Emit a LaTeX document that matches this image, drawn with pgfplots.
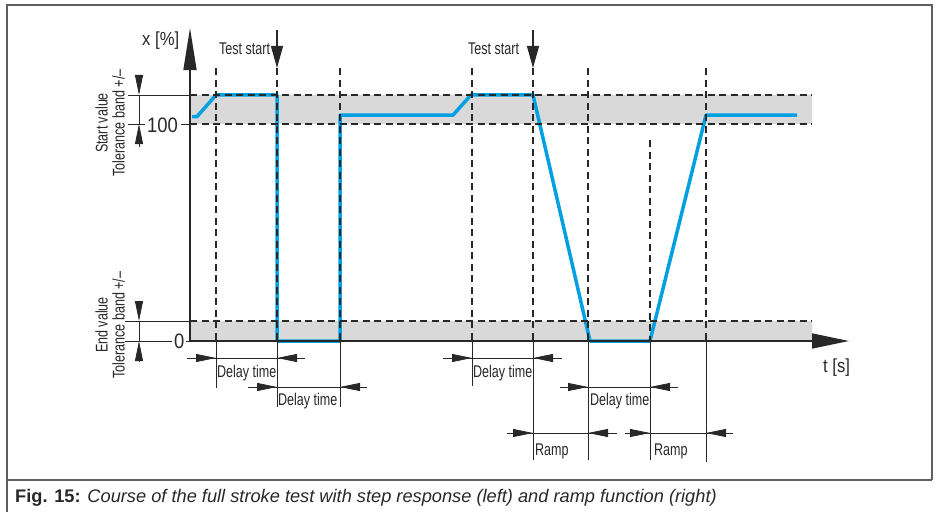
\documentclass[border=0pt]{standalone}
\usepackage{fontspec}
\setmainfont{Liberation Sans}
\newfontfamily\cnd{Liberation Sans}[FakeStretch=0.74]
\newfontfamily\cndb{Liberation Sans}[FakeStretch=0.88]
\usepackage{pgfplots}
\pgfplotsset{compat=1.18}
\usetikzlibrary{arrows.meta}
\definecolor{bandgray}{RGB}{217,217,217}
\definecolor{curveblue}{RGB}{0,160,227}
\definecolor{ink}{RGB}{40,40,40}
\definecolor{framec}{RGB}{95,95,95}
% dimension line: y, start, left tip, right tip, end
\newcommand\dimline[5]{%
  \draw[dim] (#2,#1) -- (#5,#1);
  \draw[dim,tri] (#2,#1) -- (#3,#1);
  \draw[dim,tri] (#5,#1) -- (#4,#1);}
\begin{document}
\begin{tikzpicture}
\begin{axis}[
    at={(0bp,-512bp)}, anchor=south west,
    scale only axis, width=939bp, height=512bp,
    xmin=-19, xmax=74.9, ymin=-78.80, ymax=157.14,
    hide axis, clip=false]
  % tolerance bands
  \addplot[draw=none, fill=bandgray] coordinates {(0,100) (62.2,100) (62.2,113.4) (0,113.4) (0,100)};
  \addplot[draw=none, fill=bandgray] coordinates {(0,0) (62.2,0) (62.2,9.2) (0,9.2) (0,0)};
  % valve position x [%] over t
  \addplot[curveblue, line width=3.5bp, line join=round] coordinates {
    (0.2,103.4) (0.7,103.4) (2.6,113.4) (8.7,113.4) (8.7,0) (15.0,0)
    (15.0,104.1) (26.3,104.1) (28.1,113.4) (34.3,113.4) (40.0,0) (46.0,0)
    (51.6,104.1) (60.7,104.1)};
\end{axis}
\begin{scope}[x=1bp, y=-1bp,
    dsh/.style={ink, line width=1.1bp, dash pattern=on 7bp off 4.5bp},
    dim/.style={ink, line width=0.8bp},
    tri/.style={-{Triangle[length=20bp,width=8bp]}},
    lbl/.style={font=\cnd\fontsize{17}{17}\selectfont, inner sep=0pt, text=ink},
    num/.style={font=\cndb\fontsize{21}{22}\selectfont, inner sep=0pt, text=ink}]
  % frame
  \draw[framec, line width=1.5bp] (7,512) -- (7,5) -- (932,5) -- (932,480);
  \draw[framec, line width=1.5bp] (7,480) -- (932,480);
  % dashed guides
  \foreach \yy in {95,124,321} \draw[dsh] (190,\yy) -- (812,\yy);
  \foreach \xx in {216,277,340,472,533,588,706} \draw[dsh] (\xx,68) -- (\xx,341);
  \draw[dsh] (650,140) -- (650,341);
  % extension lines below the t axis
  \draw[dim] (216,341) -- (216,388);
  \draw[dim] (277,341) -- (277,407);
  \draw[dim] (340,341) -- (340,407);
  \draw[dim] (472,341) -- (472,386);
  \draw[dim] (533,341) -- (533,460);
  \draw[dim] (588,341) -- (588,460);
  \draw[dim] (650,341) -- (650,460);
  \draw[dim] (706,341) -- (706,462);
  % axes
  \draw[ink, line width=1.5bp, -{Triangle[length=42bp,width=13bp]}] (190,341) -- (190,28);
  \draw[ink, line width=1.5bp, -{Triangle[length=37bp,width=15bp]}] (190,341) -- (849,341);
  \node[font=\cndb\fontsize{19}{20}\selectfont, inner sep=0pt, text=ink, anchor=base west] at (142,45) {x [\%]};
  \node[font=\cndb\fontsize{19}{20}\selectfont, inner sep=0pt, text=ink, anchor=base west] at (823,372) {t [s]};
  % left ticks and band dimensions
  \draw[dim] (128,95) -- (190,95);
  \draw[dim] (128,124) -- (145,124);
  \draw[dim] (181,124) -- (190,124);
  \draw[dim] (125,321) -- (190,321);
  \draw[dim] (125,341) -- (172,341);
  \draw[dim] (186,341) -- (190,341);
  \node[num, anchor=base west] at (147,132) {100};
  \node[num, anchor=base west] at (174,348) {0};
  \draw[dim,tri] (139,76) -- (139,95);
  \draw[dim] (139,95) -- (139,124);
  \draw[dim,tri] (139,147) -- (139,124);
  \draw[dim,tri] (139,301) -- (139,321);
  \draw[dim] (139,321) -- (139,341);
  \draw[dim,tri] (139,362) -- (139,341);
  \node[lbl, rotate=90, align=center] at (110,123) {Start value\\Tolerance band +/–};
  \node[lbl, rotate=90, align=center] at (110,325) {End value\\Tolerance band +/–};
  % test start markers
  \draw[ink, line width=1.2bp, -{Triangle[length=22bp,width=12bp]}] (277,30) -- (277,68);
  \draw[ink, line width=1.2bp, -{Triangle[length=22bp,width=12bp]}] (533,30) -- (533,68);
  \node[lbl, anchor=base west] at (219,54) {Test start};
  \node[lbl, anchor=base west] at (468,54) {Test start};
  % time dimensions
  \dimline{358}{187}{216}{277}{305}
  \dimline{387}{248}{277}{340}{367}
  \dimline{358}{443}{472}{533}{562}
  \dimline{387}{560}{588}{650}{678}
  \dimline{433}{507}{533}{588}{617}
  \dimline{433}{625}{650}{706}{733}
  \node[lbl, anchor=base west] at (217,377) {Delay time};
  \node[lbl, anchor=base west] at (278,405) {Delay time};
  \node[lbl, anchor=base west] at (473,377) {Delay time};
  \node[lbl, anchor=base west] at (590,405) {Delay time};
  \node[lbl, anchor=base west] at (535,455) {Ramp};
  \node[lbl, anchor=base west] at (654,455) {Ramp};
  % caption
  \node[anchor=base west, inner sep=0pt, text=ink, font=\fontsize{18.3}{20}\selectfont] at (15,502)
    {\textbf{Fig. 15:} \textit{Course of the full stroke test with step response (left) and ramp function (right)}};
\end{scope}
\pgfresetboundingbox
\path (0bp,0bp) rectangle (939bp,-512bp);
\end{tikzpicture}
\end{document}
